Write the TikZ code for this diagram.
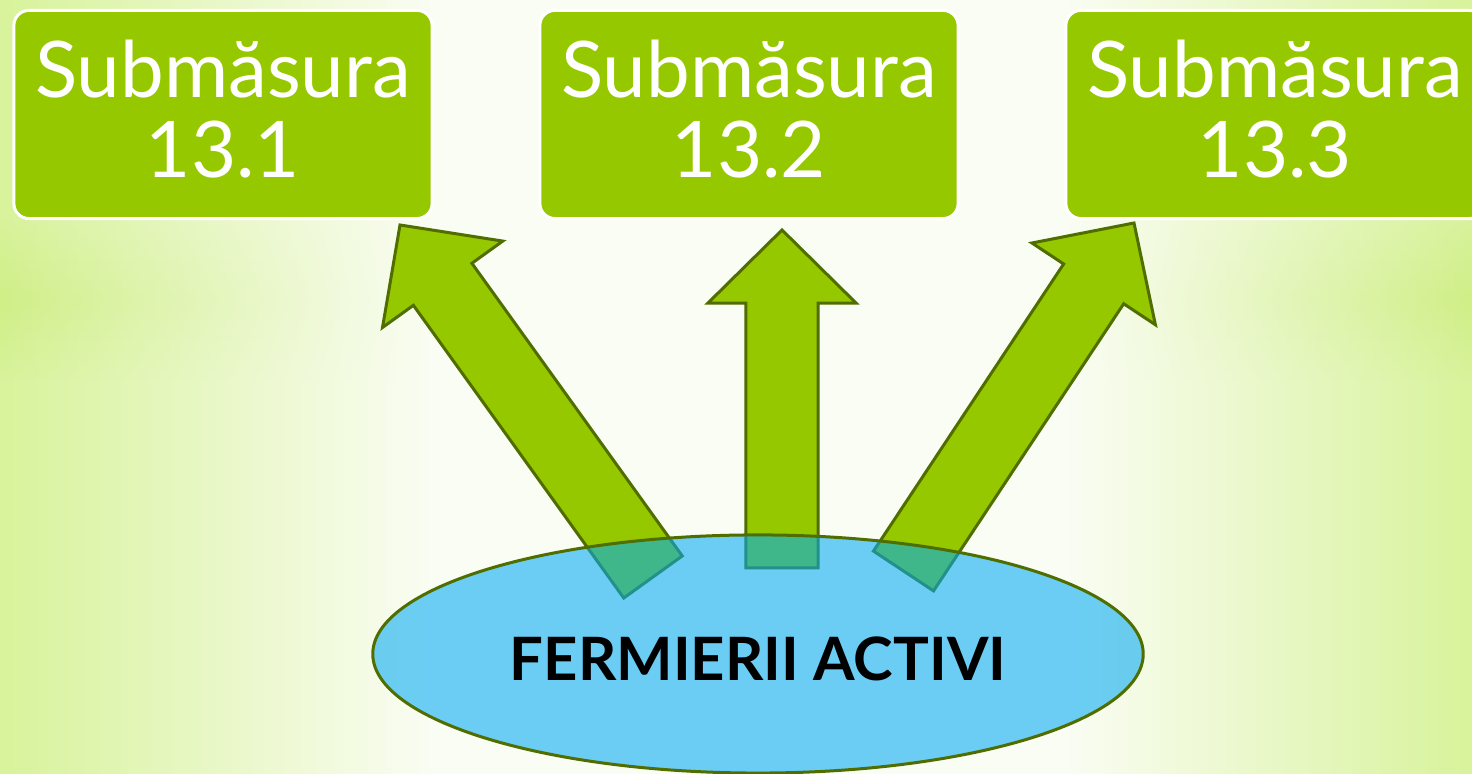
\documentclass[tikz,border=0pt]{standalone}
\usepackage{fontspec}
\setmainfont{Lato}
\usetikzlibrary{shapes.geometric,calc,fadings}

\definecolor{boxgreen}{RGB}{150,200,0}
\definecolor{olive}{RGB}{80,110,0}
\definecolor{lakeblue}{RGB}{0,170,245}
\definecolor{bggreen}{RGB}{216,243,155}
\definecolor{bgband}{RGB}{208,239,135}
\definecolor{bgwhite}{RGB}{250,253,243}

\tikzfading[name=fromleft, left color=transparent!100, right color=transparent!0]
\tikzfading[name=fromright, left color=transparent!0, right color=transparent!100]
\tikzfading[name=bandfade, top color=transparent!100, bottom color=transparent!100, middle color=transparent!0]

\tikzset{
  subbox/.style={draw=white, line width=0.03cm, fill=boxgreen, rounded corners=0.15cm,
    minimum width=4.18cm, minimum height=2.08cm, inner sep=0},
  subtext/.style={text=white, align=center, inner sep=0,
    font=\fontsize{22.2pt}{22.8pt}\selectfont},
  blockarr/.style={draw=olive, line width=0.03cm, fill=boxgreen},
  pond/.style={ellipse, draw=olive, line width=0.03cm, fill=lakeblue, fill opacity=0.57,
    text opacity=1, minimum width=7.7cm, minimum height=2.38cm, inner sep=0,
    font=\fontsize{17pt}{20pt}\selectfont\bfseries, text height=0.53cm, text depth=0pt}
}

% block arrow from tail t#1 to tip p#1
\newcommand{\blockarrow}[1]{%
  \coordinate (h#1) at ($(p#1)!0.73cm!(t#1)$);
  \draw[blockarr] ($(t#1)!0.36cm!90:(p#1)$) -- ($(h#1)!0.36cm!90:(p#1)$)
    -- ($(h#1)!0.74cm!90:(p#1)$) -- (p#1) -- ($(h#1)!0.74cm!-90:(p#1)$)
    -- ($(h#1)!0.36cm!-90:(p#1)$) -- ($(t#1)!0.36cm!-90:(p#1)$) -- cycle;}

\begin{document}
\begin{tikzpicture}[x=0.01cm, y=-0.01cm]
  \useasboundingbox (0,0) rectangle (1472,774);
  \clip (0,0) rectangle (1472,774);
  % background
  \fill[bggreen] (0,0) rectangle (1472,774);
  \fill[bgband, path fading=bandfade] (0,220) rectangle (1472,380);
  \fill[bgwhite, path fading=fromleft] (0,0) rectangle (430,774);
  \fill[bgwhite] (430,0) rectangle (1070,774);
  \fill[bgwhite, path fading=fromright] (1070,0) rectangle (1472,774);

  % sub-measures
  \foreach \i/\x in {1/223,2/749,3/1275} {
    \node[subbox] (s\i) at (\x,114.5) {};
    \node[subtext] (l\i) at ($(s\i.center)+(0,-5.5)$) {Submăsura\\13.\i};
  }

  % arrows
  \coordinate (t1) at (653,577);   \coordinate (p1) at (400,225);
  \coordinate (t2) at (782,568);   \coordinate (p2) at (782,230);
  \coordinate (t3) at (903.5,571); \coordinate (p3) at (1134,223);
  \foreach \i in {1,2,3} \blockarrow{\i};

  % farmers
  \node[pond] (f) at (758,654) {FERMIERII ACTIVI};
\end{tikzpicture}
\end{document}
